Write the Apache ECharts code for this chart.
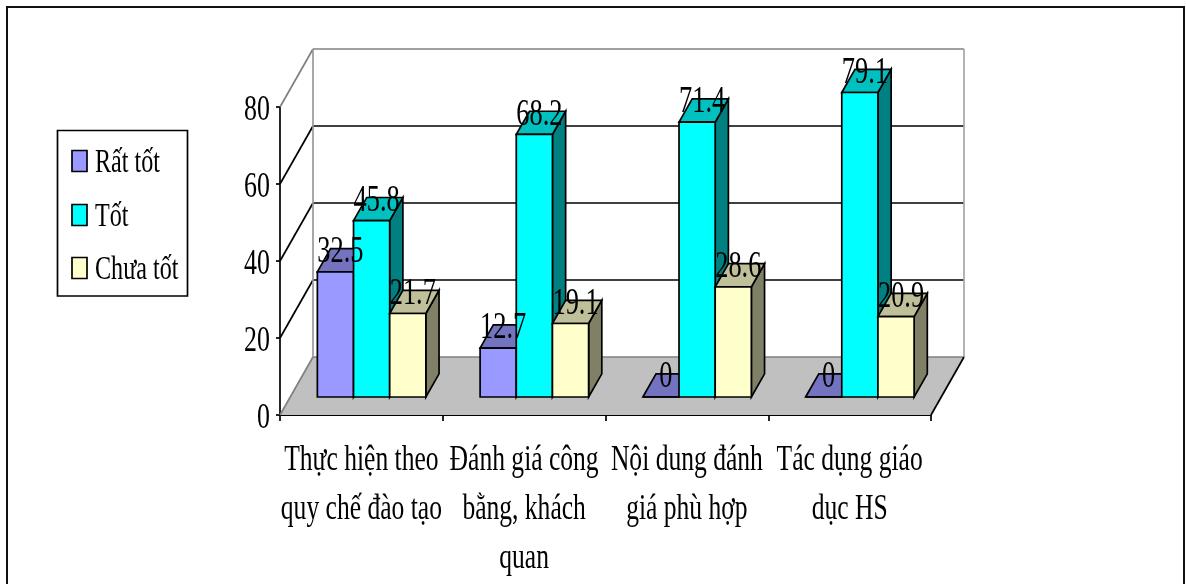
<!DOCTYPE html>
<html>
<head>
<meta charset="utf-8">
<style>html,body{margin:0;padding:0;background:#fff}#chart{width:1186px;height:584px}</style>
<script src="https://cdn.jsdelivr.net/npm/echarts@6/dist/echarts.min.js"></script>
</head>
<body>
<div id="chart"></div>
<script>
// Survey results by criterion, drawn as Excel-style 3-D clustered columns.
const categories = [
  'Thực hiện theo\nquy chế đào tạo',
  'Đánh giá công\nbằng, khách\nquan',
  'Nội dung đánh\ngiá phù hợp',
  'Tác dụng giáo\ndục HS'
];
const ratTot = [32.5, 12.7, 0, 0];
const tot = [45.8, 68.2, 71.4, 79.1];
const chuaTot = [21.7, 19.1, 28.6, 20.9];
const seriesNames = ['Rất tốt', 'Tốt', 'Chưa tốt'];
const yTicks = [0, 20, 40, 60, 80];

// Front / top / side shades of each column colour.
const shades = [
  { front: '#9999FF', top: '#7373BF', side: '#4D4D80' },
  { front: '#00FFFF', top: '#00C0C0', side: '#008080' },
  { front: '#FFFFCC', top: '#BFBF99', side: '#808066' }
];

// Oblique projection of the depth axis, in pixels.
const WALL_DX = 33, WALL_DY = -58;
const BAR_START = 0.31, BAR_DEPTH = 0.4;
const GROUP_FILL = 2 / 3;
const INK = '#000';
const STROKE = 1.7;

// Condensed serif lettering: each role has its own size and horizontal squeeze.
const TYPE = {
  value: { font: '37px "Liberation Serif"', squeeze: 0.713 },
  category: { font: '36px "Liberation Serif"', squeeze: 0.71 },
  tick: { font: '35px "Liberation Serif"', squeeze: 0.74 },
  key: { font: '34px "Liberation Serif"', squeeze: 0.71 }
};

function squeezedText(role, text, x, y, align, vAlign, extra) {
  return {
    type: 'text', x, y, scaleX: TYPE[role].squeeze, silent: true,
    style: Object.assign({ text, fill: INK, font: TYPE[role].font, textAlign: align, textVerticalAlign: vAlign }, extra || {})
  };
}
function poly(points, fill, stroke, lineWidth) {
  return { type: 'polygon', shape: { points }, style: { fill, stroke, lineWidth } };
}
function line(a, b, stroke, lineWidth) {
  return { type: 'line', shape: { x1: a[0], y1: a[1], x2: b[0], y2: b[1] }, style: { stroke, lineWidth } };
}

// Back wall, floor and the gridlines that fold from the wall onto the side wall.
function renderFrame(params, api) {
  const cs = params.coordSys;
  const xL = cs.x, xR = cs.x + cs.width;
  const y0 = api.coord([0, 0])[1];
  const yTop = api.coord([0, yTicks[yTicks.length - 1]])[1];
  const kids = [];
  kids.push(poly([[xL + WALL_DX, yTop + WALL_DY], [xR + WALL_DX, yTop + WALL_DY], [xR + WALL_DX, y0 + WALL_DY], [xL + WALL_DX, y0 + WALL_DY]], '#fff', 'none', 0));
  kids.push(poly([[xL, y0], [xR, y0], [xR + WALL_DX, y0 + WALL_DY], [xL + WALL_DX, y0 + WALL_DY]], '#C0C0C0', 'none', 0));
  yTicks.forEach(function (v) {
    const y = api.coord([0, v])[1];
    const edge = (v === 0 || v === yTicks[yTicks.length - 1]) ? '#808080' : INK;
    kids.push(line([xL, y], [xL + WALL_DX, y + WALL_DY], edge, STROKE));
    kids.push(line([xL + WALL_DX, y + WALL_DY], [xR + WALL_DX, y + WALL_DY], edge, STROKE));
  });
  kids.push(line([xL + WALL_DX, yTop + WALL_DY], [xL + WALL_DX, y0 + WALL_DY], '#999', STROKE));
  kids.push(line([xR + WALL_DX, yTop + WALL_DY], [xR + WALL_DX, y0 + WALL_DY], '#A6A6A6', STROKE));
  kids.push(line([xR, y0], [xR + WALL_DX, y0 + WALL_DY], INK, STROKE));
  return { type: 'group', children: kids };
}

// Position of one column's front face within its category band.
function barBox(api, cat, val, idx) {
  const band = api.size([1, 0])[0];
  const groupW = band * GROUP_FILL;
  const w = groupW / 3;
  const c = api.coord([cat, val]);
  const base = api.coord([cat, 0]);
  const x = c[0] - groupW / 2 + idx * w + BAR_START * WALL_DX;
  return { x, w, top: c[1] + BAR_START * WALL_DY, bottom: base[1] + BAR_START * WALL_DY };
}

function renderBar(idx) {
  return function (params, api) {
    const b = barBox(api, api.value(0), api.value(1), idx);
    const dx = BAR_DEPTH * WALL_DX, dy = BAR_DEPTH * WALL_DY;
    const s = shades[idx];
    const xr = b.x + b.w;
    return {
      type: 'group',
      children: [
        poly([[xr, b.bottom], [xr + dx, b.bottom + dy], [xr + dx, b.top + dy], [xr, b.top]], s.side, INK, STROKE),
        poly([[b.x, b.top], [xr, b.top], [xr + dx, b.top + dy], [b.x + dx, b.top + dy]], s.top, INK, STROKE),
        poly([[b.x, b.bottom], [xr, b.bottom], [xr, b.top], [b.x, b.top]], s.front, INK, STROKE)
      ]
    };
  };
}

function renderValueLabel(idx) {
  return function (params, api) {
    const val = api.value(1);
    const b = barBox(api, api.value(0), val, idx);
    return squeezedText('value', String(val), b.x + b.w / 2 + 5, b.top - 19.5, 'center', 'middle');
  };
}

function renderCategoryLabel(params, api) {
  const p = api.coord([api.value(0), 0]);
  return squeezedText('category', categories[api.value(0)], p[0], p[1] + 21, 'center', 'top', { lineHeight: 49 });
}

function renderTickLabel(params, api) {
  const p = api.coord([0, api.value(0)]);
  return squeezedText('tick', String(api.value(0)), params.coordSys.x - 10, p[1] + 3.5, 'right', 'middle');
}

const columnData = [ratTot, tot, chuaTot];
const series = [
  { type: 'custom', name: 'frame', z: 1, silent: true, renderItem: renderFrame, data: [[0, 0]], encode: { x: 0, y: 1 } }
];
columnData.forEach(function (vals, i) {
  series.push({
    type: 'custom', name: seriesNames[i], z: 2 + i, renderItem: renderBar(i),
    data: vals.map(function (v, c) { return [c, v]; }), encode: { x: 0, y: 1 }
  });
});
columnData.forEach(function (vals, i) {
  series.push({
    type: 'custom', name: seriesNames[i] + ' labels', z: 6, silent: true, renderItem: renderValueLabel(i),
    data: vals.map(function (v, c) { return [c, v]; }), encode: { x: 0, y: 1 }
  });
});
series.push({
  type: 'custom', name: 'category labels', z: 6, silent: true, renderItem: renderCategoryLabel,
  data: categories.map(function (_, c) { return [c, 0]; }), encode: { x: 0, y: 1 }
});
series.push({
  type: 'custom', name: 'tick labels', z: 6, silent: true, renderItem: renderTickLabel,
  data: yTicks.map(function (v) { return [v]; }), encode: { y: 0 }
});

// Boxed key on the left of the plot.
const legendRows = [163, 217, 270];
const legendChildren = [
  { type: 'rect', shape: { x: 57.5, y: 130.5, width: 130, height: 165.5 }, style: { fill: '#fff', stroke: INK, lineWidth: STROKE } }
];
seriesNames.forEach(function (name, i) {
  const y = legendRows[i];
  legendChildren.push({ type: 'rect', shape: { x: 72, y: y - 12.5, width: 15, height: 21 }, style: { fill: shades[i].front, stroke: INK, lineWidth: STROKE } });
  legendChildren.push({ type: 'text', x: 95, y: y, scaleX: TYPE.key.squeeze, style: { text: name, fill: INK, font: TYPE.key.font, textAlign: 'left', textVerticalAlign: 'middle' } });
});

const chart = echarts.init(document.getElementById('chart'));
chart.setOption({
  animation: false,
  backgroundColor: '#fff',
  grid: { left: 280, top: 107, width: 651, height: 308 },
  xAxis: {
    type: 'category', data: categories, boundaryGap: true,
    axisLine: { show: true, onZero: false, lineStyle: { color: INK, width: 2 } },
    axisTick: { show: true, alignWithLabel: false, length: 6, lineStyle: { color: INK, width: STROKE } },
    axisLabel: { show: false }, splitLine: { show: false }
  },
  yAxis: {
    type: 'value', min: 0, max: 80, interval: 20,
    axisLine: { show: true, lineStyle: { color: INK, width: STROKE } },
    axisTick: { show: true, length: 4, lineStyle: { color: INK, width: STROKE } },
    axisLabel: { show: false }, splitLine: { show: false }
  },
  series,
  graphic: [
    { type: 'rect', z: 0, silent: true, shape: { x: 7, y: 7, width: 1177, height: 600 }, style: { fill: 'none', stroke: '#111', lineWidth: 2 } },
    { type: 'group', children: legendChildren }
  ]
});
</script>
</body>
</html>
